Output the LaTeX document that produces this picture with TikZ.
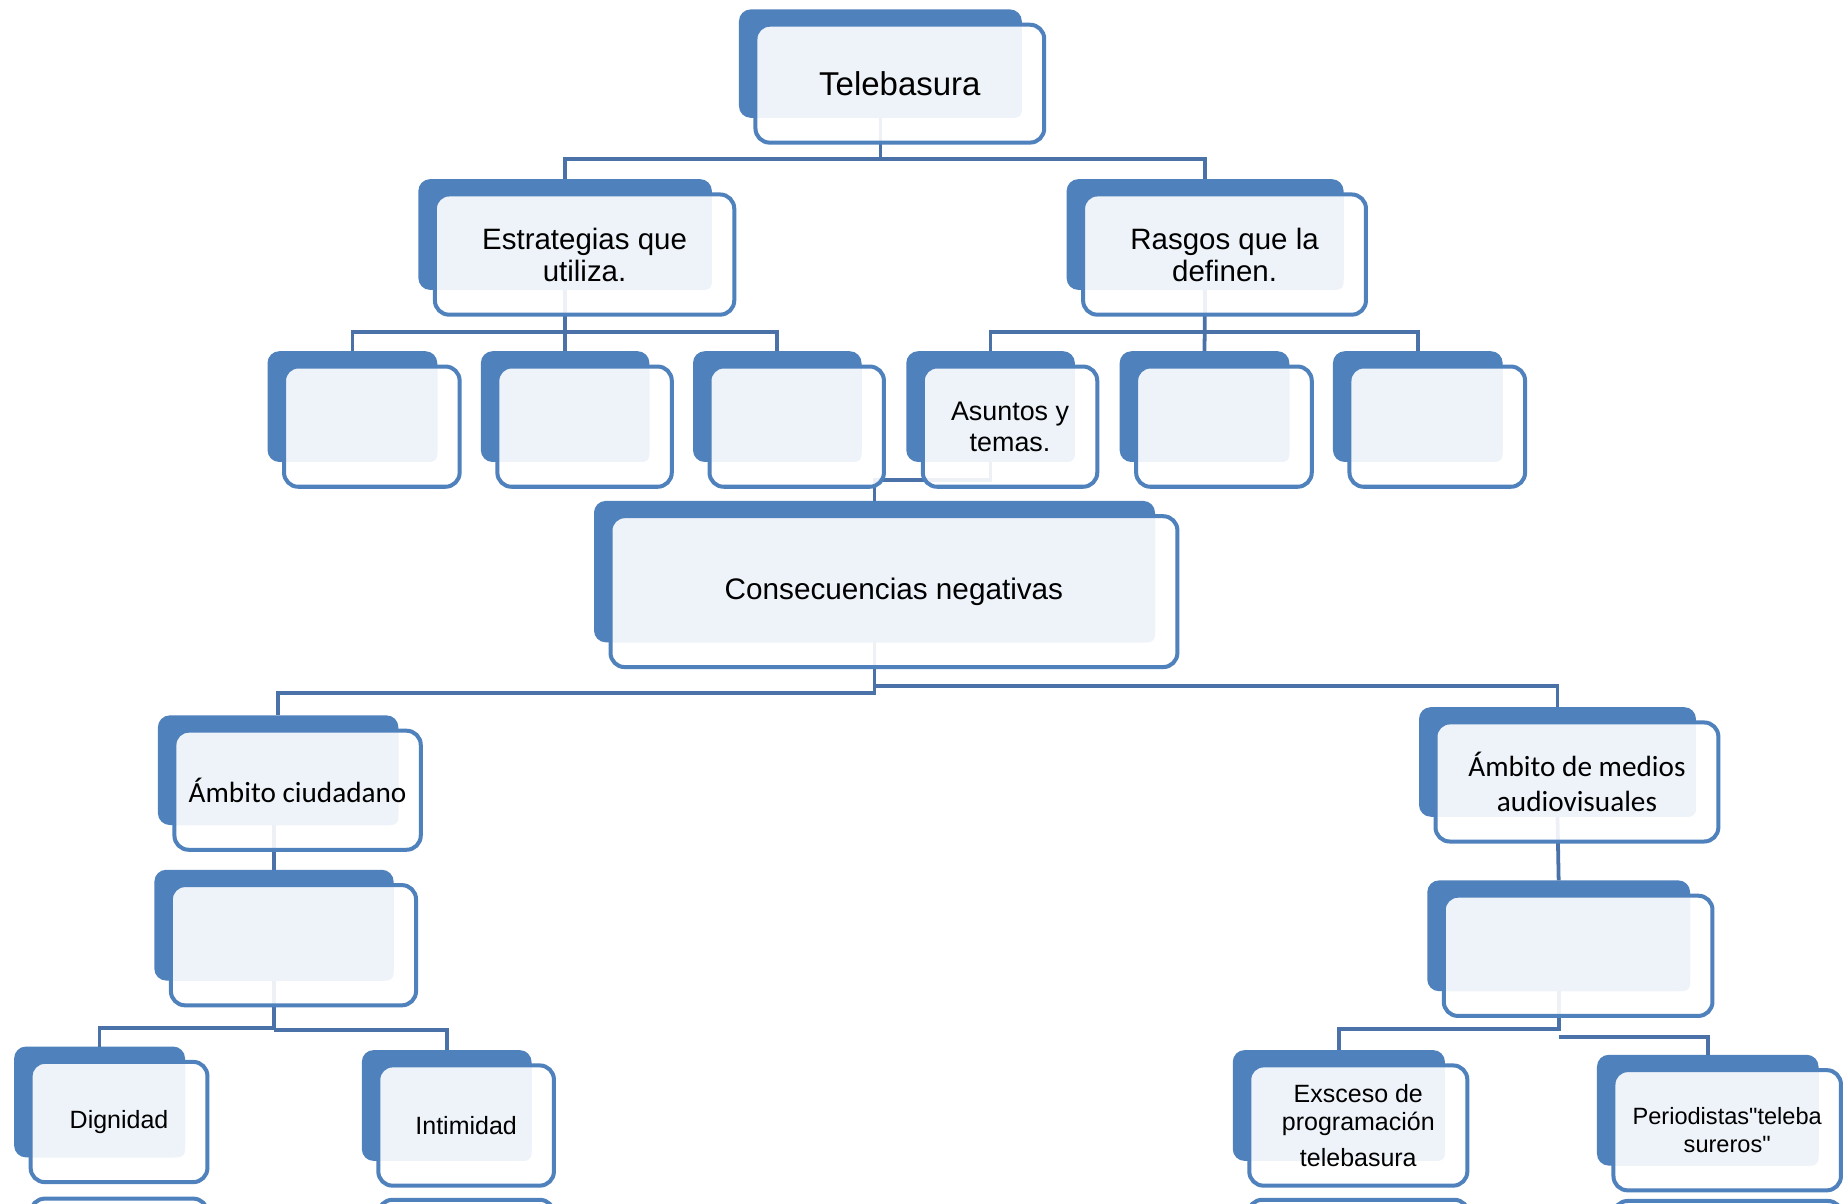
\documentclass[tikz,border=0pt]{standalone}
\usepackage{fontspec}
\setmainfont{Liberation Sans}
\newfontfamily\lsans{Liberation Sans}
\newfontfamily\calib{Carlito}
\usetikzlibrary{fit,calc}
\definecolor{bblue}{HTML}{4F81BD}
\definecolor{lblue}{HTML}{EEF2F9}
\definecolor{cblue}{HTML}{4A72A8}
\tikzset{
  backshape/.style={fill=bblue, rounded corners=5pt, inner sep=0pt, outer sep=0pt, draw=none},
  frontshape/.style={fill=white, fill opacity=.9, inner sep=0pt, outer sep=0pt, draw=none, rounded corners=6pt},
  frontline/.style={draw=bblue, line width=1.7pt, rounded corners=6pt},
  conn/.style={draw=cblue, line width=1.6pt},
  txt/.style={align=center, text=black, inner sep=0pt},
}
\newcommand\backb[5]{%
  \coordinate (#1-p) at (#2,#3);
  \coordinate (#1-q) at (#4,#5);
  \node[backshape, fit=(#1-p)(#1-q)] (#1) {};
}
\newcommand\frontb[3][]{%
  \coordinate (#2-fa) at ($(#2.north west)+(14,13)$);
  \coordinate (#2-fb) at ($(#2.south east)+(19,21)$);
  \node[frontshape, fit=(#2-fa)(#2-fb)] (#2-f) {};
  \begin{scope}
    \clip[rounded corners=6pt] (#2-fa) rectangle (#2-fb);
    \fill[lblue, rounded corners=3pt] ($(#2-fa)+(-6,-6)$) rectangle (#2.south east);
  \end{scope}
  \draw[frontline] (#2-f.north west) rectangle (#2-f.south east);
  \node[txt,#1] (#2-t) at (#2-f.center) {#3};
}
\begin{document}
\begin{tikzpicture}[x=0.5pt,y=-0.5pt]
\clip (0,0) rectangle (1568,1021);
\fill[white] (0,0) rectangle (1568,1021);
% back shapes
\backb{tb}{627}{8}{867}{100}
\backb{es}{355}{152}{604}{246}
\backb{ra}{905}{152}{1140}{246}
\backb{e1}{227}{298}{371}{392}
\backb{e2}{408}{298}{551}{392}
\backb{e3}{588}{298}{731}{392}
\backb{r1}{769}{298}{912}{392}
\backb{r2}{950}{298}{1094}{392}
\backb{r3}{1131}{298}{1275}{392}
\backb{co}{504}{425}{980}{545}
\backb{ac}{134}{607}{338}{700}
\backb{ac2}{131}{738}{334}{832}
\backb{di}{12}{888}{157}{982}
\backb{it}{307}{891}{451}{985}
\backb{am}{1204}{600}{1439}{693}
\backb{am2}{1211}{747}{1434}{841}
\backb{ex}{1046}{891}{1226}{985}
\backb{pe}{1355}{895}{1543}{989}
% connectors
\draw[conn] (tb.south) -- ++(0,35);
\draw[conn] (es.north) -- ++(0,-17) -| (ra.north);
\draw[conn] (es.south) -- (e2.north);
\draw[conn] (e1.north) -- ++(0,-16) -| (e3.north);
\draw[conn] (ra.south) -- (r2.north);
\draw[conn] (r1.north) -- ++(0,-16) -| (r3.north);
\draw[conn] (r1.south) -- ++(0,15) -| (co.north);
\draw[conn] (co.south) -- ++(0,43) -| (ac.north);
\draw[conn] ($(co.south)+(0,37)$) -| (am.north);
\draw[conn] (ac2.north |- ac.south) -- (ac2.north);
\draw[conn] (ac2.south) -- ++(0,40) -| (di.north);
\draw[conn] ($(ac2.south)+(0,42)$) -| (it.north);
\draw[conn] (am.south) -- (am2.north);
\draw[conn] (am2.south) -- ++(0,32) -| (ex.north);
\draw[conn] ($(am2.south)+(0,39)$) -| (pe.north);
% front shapes and texts
\frontb[font=\fontsize{14}{16}\selectfont]{tb}{Telebasura}
\frontb[font=\fontsize{12.5}{13.5}\selectfont]{es}{Estrategias que\\utiliza.}
\frontb[font=\fontsize{12.5}{13.5}\selectfont]{ra}{Rasgos que la\\definen.}
\frontb{e1}{}
\frontb{e2}{}
\frontb{e3}{}
\frontb[font=\fontsize{11.4}{13}\selectfont]{r1}{Asuntos y\\temas.}
\frontb{r2}{}
\frontb{r3}{}
\frontb[font=\fontsize{12.6}{14}\selectfont]{co}{Consecuencias negativas}
\frontb[font=\calib\fontsize{12.4}{14.5}\selectfont]{ac}{Ámbito ciudadano}
\frontb{ac2}{}
\frontb[font=\fontsize{10.6}{12}\selectfont]{di}{Dignidad}
\frontb[font=\fontsize{10.6}{12}\selectfont]{it}{Intimidad}
\frontb[font=\calib\fontsize{12.4}{14.5}\selectfont]{am}{Ámbito de medios\\audiovisuales}
\frontb{am2}{}
\frontb[font=\fontsize{10.6}{12}\selectfont]{ex}{Exsceso de\\programación\\[3.5pt]telebasura}
\frontb[font=\lsans\fontsize{10}{12}\selectfont]{pe}{Periodistas"teleba\\sureros"}
% boxes cut off by the lower edge
\path[frontline, fill=white] (26,1017) rectangle (176,1110);
\path[frontline, fill=white] (321,1018) rectangle (470,1110);
\path[frontline, fill=white] (1059,1018) rectangle (1246,1110);
\path[frontline, fill=white] (1369,1019) rectangle (1563,1110);
\end{tikzpicture}
\end{document}
